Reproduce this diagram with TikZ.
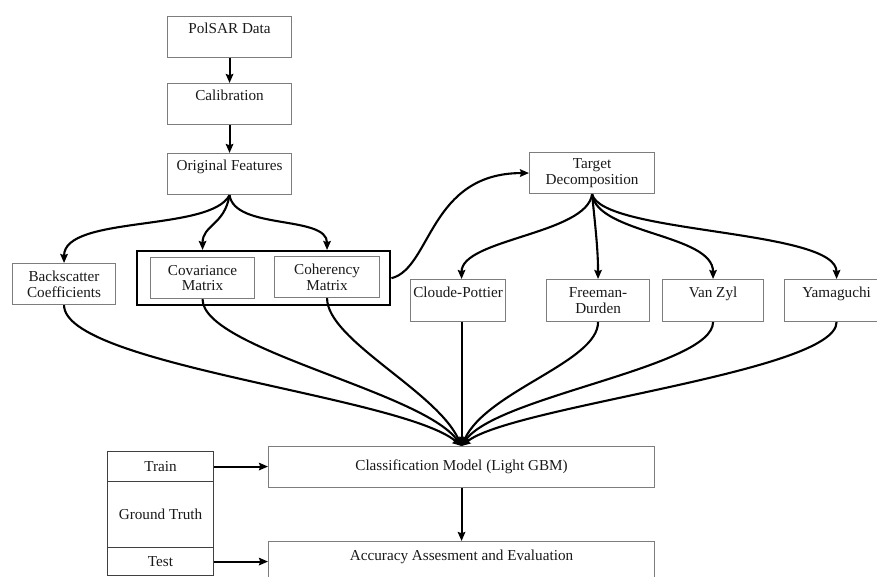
\documentclass[tikz,border=0pt]{standalone}
\usepackage{fontspec}
\setmainfont{Liberation Serif}
\usetikzlibrary{arrows.meta}
\definecolor{boxgray}{RGB}{125,125,125}
\begin{document}
\begin{tikzpicture}[x=1pt,y=-1pt,
  box/.style={draw=boxgray, line width=1.1pt, inner sep=0pt, align=center,
    font=\fontsize{15.2}{15.6}\selectfont, anchor=north west, text=black!90},
  upper/.style={text height=17pt, text depth=24pt},
  gtcell/.style={box, draw=black!75, minimum width=106pt},
  conn/.style={line width=2.1pt, -{Stealth[length=9pt,width=7.5pt,inset=1.2pt]}},
  bigbox/.style={draw=black, line width=2.4pt, inner sep=0pt, anchor=north west}
]
\useasboundingbox (0,0) rectangle (877,576);

% top chain
\node[box, minimum width=124pt, minimum height=41pt, upper] (polsar) at (167,16) {PolSAR Data};
\node[box, minimum width=124pt, minimum height=41pt, upper] (calib) at (167,83) {Calibration};
\node[box, minimum width=124pt, minimum height=40pt, upper] (orig) at (167,153) {Original Features};

% left features
\node[box, minimum width=103pt, minimum height=41pt] (back) at (12,263) {Backscatter\\Coefficients};
\node[bigbox, minimum width=253pt, minimum height=54pt] (outer) at (136,250) {};
\node[box, minimum width=104pt, minimum height=41pt] (cov) at (150,257) {Covariance\\Matrix};
\node[box, minimum width=105pt, minimum height=41pt] (coh) at (274,256) {Coherency\\Matrix};

% decomposition
\node[box, minimum width=125pt, minimum height=41pt] (target) at (529,152) {Target\\Decomposition};
\node[box, minimum width=95pt, minimum height=42pt, upper] (cloude) at (410,279) {Cloude-Pottier};
\node[box, minimum width=103pt, minimum height=42pt] (freeman) at (546,279) {Freeman-\\Durden};
\node[box, minimum width=101pt, minimum height=42pt, upper] (vanzyl) at (662,279) {Van Zyl};
\node[box, minimum width=104pt, minimum height=42pt, upper] (yama) at (784,279) {Yamaguchi};

% model and evaluation
\node[box, minimum width=386pt, minimum height=41pt] (class) at (268,446) {Classification Model (Light GBM)};
\node[box, minimum width=386pt, minimum height=41pt, text height=19pt, text depth=22pt] (acc) at (268,541) {Accuracy Assesment and Evaluation};

% ground truth
\node[gtcell, minimum height=30pt] (train) at (107,451) {Train};
\node[gtcell, minimum height=66pt] (gt) at (107,481) {Ground Truth};
\node[gtcell, minimum height=28pt] (test) at (107,547) {Test};

% connectors
\draw[conn] (polsar) -- (calib);
\draw[conn] (calib) -- (orig);
\draw[conn] (orig.south) .. controls +(-19,37) and +(0,-48) .. (back.north);
\draw[conn] (orig.south) .. controls +(-5,30) and +(0,-25) .. (cov.north |- outer.north);
\draw[conn] (orig.south) .. controls +(5,35) and +(0,-35) .. (coh.north |- outer.north);
\draw[conn] (outer.east) .. controls +(40,-10) and +(-100,0) .. (target.west);

\draw[conn] (target.south) .. controls +(-5,40) and +(0,-40) .. (cloude.north -| class.north);
\draw[conn] (target.south) .. controls +(3,30) and +(0,-30) .. (freeman.north);
\draw[conn] (target.south) .. controls +(5,40) and +(0,-45) .. (vanzyl.north);
\draw[conn] (target.south) .. controls +(10,40) and +(0,-50) .. (yama.north);

\draw[conn] (back.south) .. controls +(0,60) and +(-60,-50) .. (class.north);
\draw[conn] (cov.south) .. controls +(0,50) and +(-40,-55) .. (class.north);
\draw[conn] (coh.south) .. controls +(0,42) and +(-25,-55) .. (class.north);
\draw[conn] (cloude.south -| class.north) -- (class.north);
\draw[conn] (freeman.south) .. controls +(0,40) and +(25,-55) .. (class.north);
\draw[conn] (vanzyl.south) .. controls +(0,45) and +(35,-50) .. (class.north);
\draw[conn] (yama.south) .. controls +(0,50) and +(50,-40) .. (class.north);

\draw[conn] (train.east) -- (train.east -| class.west);
\draw[conn] (test.east) -- (test.east -| acc.west);
\draw[conn] (class) -- (acc);
\end{tikzpicture}
\end{document}
